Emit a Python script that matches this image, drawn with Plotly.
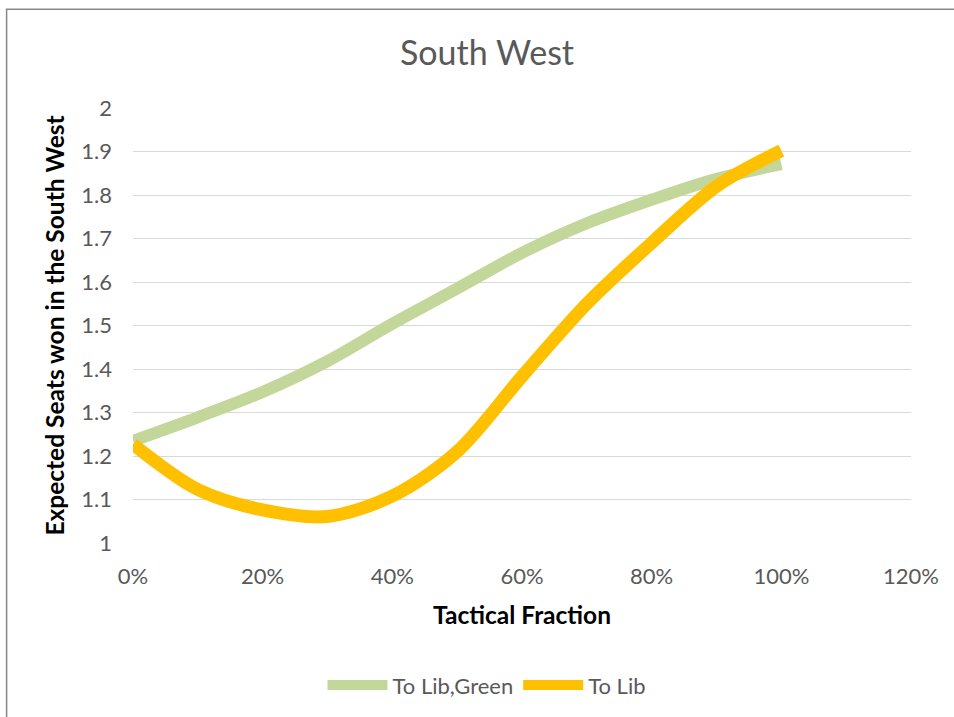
import plotly.graph_objects as go

tactical_fraction = [0.0, 0.1, 0.2, 0.3, 0.4, 0.5, 0.6, 0.7, 0.8, 0.9, 1.0]
to_lib_green = [1.235, 1.289, 1.347, 1.418, 1.504, 1.585, 1.667, 1.735, 1.789, 1.837, 1.871]
to_lib = [1.227, 1.123, 1.076, 1.061, 1.108, 1.210, 1.383, 1.550, 1.690, 1.820, 1.902]

series_names = ["To Lib,Green", "To Lib"]
series_colors = ["#C4D79B", "#FFC000"]

FONT = "Lato"
GREY = "#595959"

fig = go.Figure()
fig.add_trace(go.Scatter(x=tactical_fraction, y=to_lib_green, name=series_names[0],
                         mode="lines", line=dict(color=series_colors[0], width=12,
                                                 shape="spline", smoothing=0.9)))
fig.add_trace(go.Scatter(x=tactical_fraction, y=to_lib, name=series_names[1],
                         mode="lines", line=dict(color=series_colors[1], width=13,
                                                 shape="spline", smoothing=0.9)))

fig.update_layout(
    width=954, height=717,
    margin=dict(l=133, r=43, t=108, b=173),
    paper_bgcolor="white", plot_bgcolor="white",
    font=dict(family=FONT, color=GREY, size=22),
    title=dict(text="South West", x=487/954, xref="container", xanchor="center",
               y=1-53/717, yref="container", yanchor="middle",
               font=dict(family=FONT, size=34, color=GREY)),
    xaxis=dict(range=[0, 1.2], dtick=0.2, tick0=0, tickformat=".0%",
               showgrid=False, zeroline=False, showline=False, ticks="",
               ticklabelstandoff=18, tickfont=dict(size=22, color=GREY),
               title=dict(text="<b>Tactical Fraction</b>", standoff=18,
                          font=dict(family=FONT, size=24.5, color="#000000"))),
    yaxis=dict(range=[1, 2], dtick=0.1, tick0=1, showgrid=True,
               gridcolor="#D9D9D9", gridwidth=1.3, zeroline=False, showline=False,
               ticks="", ticklabelstandoff=20, tickfont=dict(size=22, color=GREY),
               title=dict(text="<b>Expected Seats won in the South West</b>", standoff=9,
                          font=dict(family=FONT, size=24.5, color="#000000"))),
    legend=dict(orientation="h", x=0.455, xanchor="center", y=-0.324, yanchor="middle",
                font=dict(size=22, color=GREY), itemwidth=60, bgcolor="rgba(0,0,0,0)"),
    showlegend=True,
)

# outer chart border (cropped in reference)
fig.add_shape(type="rect", xref="paper", yref="paper",
              x0=(7-133.3)/777.4, x1=1.3, y0=-0.6, y1=(543.7-9)/435.7,
              line=dict(color="#878787", width=1.5), fillcolor="rgba(0,0,0,0)", layer="below")

fig.write_html("out.html")
